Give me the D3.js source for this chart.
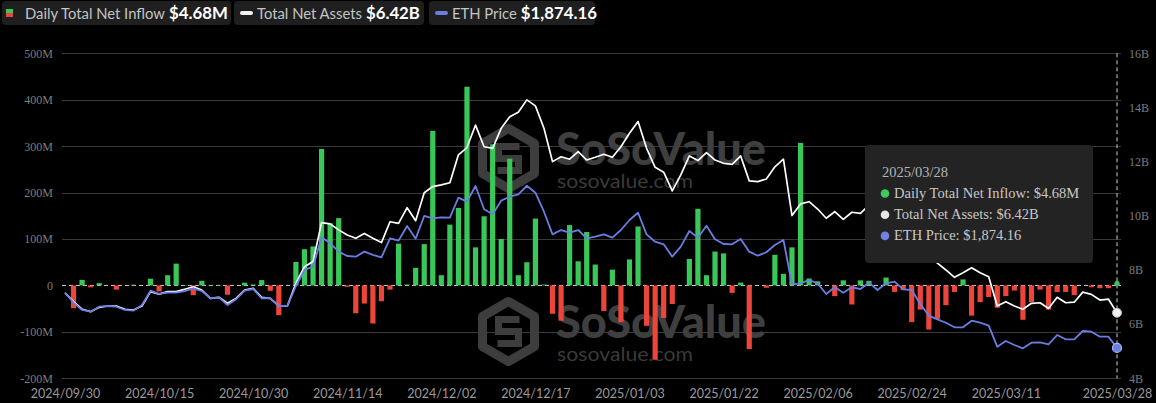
<!DOCTYPE html>
<html><head><meta charset="utf-8">
<script src="https://cdn.jsdelivr.net/npm/d3@7/dist/d3.min.js"></script>
<style>html,body{margin:0;padding:0;background:#000;overflow:hidden;} svg{display:block;}</style>
</head><body><svg id="c" width="1156" height="403"></svg>
<script>
const dates = [
"2024/09/30","2024/10/01","2024/10/02","2024/10/03","2024/10/04","2024/10/07","2024/10/08","2024/10/09","2024/10/10","2024/10/11",
"2024/10/14","2024/10/15","2024/10/16","2024/10/17","2024/10/18","2024/10/21","2024/10/22","2024/10/23","2024/10/24","2024/10/25",
"2024/10/28","2024/10/29","2024/10/30","2024/10/31","2024/11/01","2024/11/04","2024/11/05","2024/11/06","2024/11/07","2024/11/08",
"2024/11/11","2024/11/12","2024/11/13","2024/11/14","2024/11/15","2024/11/18","2024/11/19","2024/11/20","2024/11/21","2024/11/22",
"2024/11/25","2024/11/26","2024/11/27","2024/11/29","2024/12/02","2024/12/03","2024/12/04","2024/12/05","2024/12/06","2024/12/09",
"2024/12/10","2024/12/11","2024/12/12","2024/12/13","2024/12/16","2024/12/17","2024/12/18","2024/12/19","2024/12/20","2024/12/23",
"2024/12/24","2024/12/26","2024/12/27","2024/12/30","2024/12/31","2025/01/02","2025/01/03","2025/01/06","2025/01/07","2025/01/08",
"2025/01/10","2025/01/13","2025/01/14","2025/01/15","2025/01/16","2025/01/17","2025/01/21","2025/01/22","2025/01/23","2025/01/24",
"2025/01/27","2025/01/28","2025/01/29","2025/01/30","2025/01/31","2025/02/03","2025/02/04","2025/02/05","2025/02/06","2025/02/07",
"2025/02/10","2025/02/11","2025/02/12","2025/02/13","2025/02/14","2025/02/18","2025/02/19","2025/02/20","2025/02/21","2025/02/24",
"2025/02/25","2025/02/26","2025/02/27","2025/02/28","2025/03/03","2025/03/04","2025/03/05","2025/03/06","2025/03/07","2025/03/10",
"2025/03/11","2025/03/12","2025/03/13","2025/03/14","2025/03/17","2025/03/18","2025/03/19","2025/03/20","2025/03/21","2025/03/24",
"2025/03/25","2025/03/26","2025/03/27","2025/03/28"];

// Daily total net inflow, millions USD
const inflow = [
0, -49, 12, -4, 5, 0, -9, 0, 1.5, 0,
14.5, -13, 22, 47, 1, -21, 10, 1, 1, -20,
0, 6, 2, 11.5, -11.5, -64, 0, 50.5, 78, 84,
294, 134, 145, -3, -60, -39, -82, -34, -9, 90,
2, 38, 89, 333, 22, 131, 167, 428, 82, 149,
304, 100, 273, 22, 50, 144, 2, -61, -76, 130,
52, 115, 45, -55, 34, -79, 56, 127, -87, -160,
-70, -40, 0, 57, 165, 22, 73, 69, -16, 6,
-137, 0, -5, 66, 25, 82, 307, 15, 9, 0,
-23, 11, -41, 11, 10, 0, 17, -14, -10, -79,
-52, -95, -72, -42.5, -14, 13, -65, -36, -25, -48,
-23, -11, -74, -36, -9, -52, -14, -14, -21, 0,
-4, -6, -6, 4.68];

// Total net assets, billions USD
const netAssets = [
7.16, 6.83, 6.55, 6.46, 6.62, 6.67, 6.67, 6.55, 6.52, 6.67,
7.20, 7.11, 7.20, 7.20, 7.29, 7.38, 7.26, 6.95, 6.99, 6.77,
6.95, 7.26, 7.32, 6.99, 6.95, 6.67, 6.67, 7.51, 8.12, 8.31,
9.75, 9.70, 9.48, 9.29, 9.17, 9.35, 9.17, 9.01, 9.78, 9.72,
10.30, 9.82, 10.85, 11.08, 11.14, 11.22, 12.25, 12.52, 13.35, 12.55,
12.49, 13.23, 13.66, 13.82, 14.28, 14.06, 13.23, 12.00, 12.18, 12.09,
12.37, 12.06, 12.16, 12.27, 12.16, 12.55, 13.05, 13.48, 12.49, 11.79,
11.61, 10.92, 11.51, 12.21, 12.04, 12.33, 12.06, 11.94, 11.90, 12.21,
11.29, 11.26, 11.36, 11.81, 12.09, 10.01, 10.44, 10.52, 10.25, 9.91,
10.15, 9.87, 10.13, 10.09, 10.39, 10.04, 10.35, 10.42, 10.02, 9.93,
9.17, 8.49, 8.25, 8.00, 7.73, 7.90, 8.08, 7.90, 7.75, 6.67,
6.83, 6.67, 6.55, 6.77, 6.79, 6.58, 6.99, 6.79, 6.81, 7.18,
7.10, 6.89, 6.92, 6.42];

// ETH price, USD
const ethPrice = [
2554, 2431, 2341, 2320, 2381, 2390, 2381, 2341, 2332, 2402,
2578, 2538, 2554, 2554, 2574, 2608, 2574, 2485, 2497, 2402,
2472, 2578, 2599, 2485, 2485, 2390, 2390, 2636, 2833, 2874,
3235, 3162, 3059, 3005, 2997, 3059, 3018, 2989, 3223, 3194,
3375, 3219, 3498, 3469, 3481, 3477, 3723, 3674, 3867, 3580,
3518, 3686, 3735, 3765, 3870, 3784, 3550, 3272, 3325, 3292,
3325, 3223, 3243, 3272, 3231, 3325, 3448, 3538, 3272, 3181,
3149, 2997, 3120, 3313, 3231, 3378, 3211, 3153, 3149, 3215,
3059, 3009, 3051, 3141, 3202, 2657, 2669, 2710, 2669, 2538,
2620, 2554, 2620, 2599, 2677, 2587, 2669, 2689, 2595, 2587,
2414, 2271, 2226, 2184, 2128, 2128, 2209, 2184, 2148, 1889,
1959, 1910, 1869, 1938, 1943, 1918, 2033, 1980, 1980, 2082,
2074, 2012, 2012, 1874.16];

const xTickLabels = ["2024/09/30","2024/10/15","2024/10/30","2024/11/14","2024/12/02","2024/12/17","2025/01/03","2025/01/22","2025/02/06","2025/02/24","2025/03/11","2025/03/28"];
const leftTicks = [-200, -100, 0, 100, 200, 300, 400, 500];
const rightTicks = [4, 6, 8, 10, 12, 14, 16];

const legendItems = [
  {label: "Daily Total Net Inflow", value: "$4.68M", type: "bar"},
  {label: "Total Net Assets", value: "$6.42B", type: "white"},
  {label: "ETH Price", value: "$1,874.16", type: "blue"}
];
const tooltipDate = "2025/03/28";
const tooltipRows = [
  {label: "Daily Total Net Inflow: $4.68M", color: "#3fca5c"},
  {label: "Total Net Assets: $6.42B", color: "#e6e6e6"},
  {label: "ETH Price: $1,874.16", color: "#6f83e6"}
];

const GREEN = "#3ac75a", RED = "#ec463b", WHITE = "#ffffff", BLUE = "#6a7ee2";
const svg = d3.select("#c");
svg.append("rect").attr("width", 1156).attr("height", 403).attr("fill", "#000");

const plotL = 62, plotR = 1121, yTop = 53.3, yBot = 378.3;
const x = d3.scalePoint().domain(dates).range([65, 1117]);
const yL = d3.scaleLinear().domain([-200, 500]).range([yBot, yTop]);
const yR = d3.scaleLinear().domain([4, 16]).range([yBot, yTop]);
const yE = d3.scaleLinear().domain([1500, 5500]).range([yBot, yTop]);

// gridlines
svg.append("g").selectAll("line").data(leftTicks.filter(d => d !== 0)).join("line")
  .attr("x1", plotL).attr("x2", plotR)
  .attr("y1", d => Math.round(yL(d)) + 0.5).attr("y2", d => Math.round(yL(d)) + 0.5)
  .attr("stroke", "#3a3a3a").attr("stroke-width", 1);

// watermarks
function watermark(cx, cy, tx, ty) {
  const g = svg.append("g");
  const r = 30;
  const pts = d3.range(6).map(k => {
    const a = (-90 + 60 * k) * Math.PI / 180;
    return [cx + r * Math.cos(a), cy + r * Math.sin(a)];
  });
  g.append("path").attr("d", "M" + pts.map(p => p.join(",")).join("L") + "Z")
    .attr("fill", "none").attr("stroke", "#3d3d3d").attr("stroke-width", 9).attr("stroke-linejoin", "round");
  g.append("path")
    .attr("d", `M${cx + 11},${cy - 12} H${cx - 10} V${cy} H${cx + 10} V${cy + 12} H${cx - 11}`)
    .attr("fill", "none").attr("stroke", "#3d3d3d").attr("stroke-width", 7);
  g.append("text").attr("x", tx).attr("y", ty).text("SoSoValue")
    .attr("font-family", "Lato, sans-serif").attr("font-weight", 900).attr("font-size", 46)
    .attr("textLength", 210).attr("lengthAdjust", "spacingAndGlyphs").attr("fill", "#3f3f3f");
  g.append("text").attr("x", tx + 1).attr("y", ty + 23).text("sosovalue.com")
    .attr("font-family", "Lato, sans-serif").attr("font-size", 20)
    .attr("textLength", 136).attr("lengthAdjust", "spacingAndGlyphs").attr("fill", "#3a3a3a");
}
watermark(508.5, 158.5, 556, 165);
watermark(508.5, 331.5, 556, 338);

// zero line
svg.append("line").attr("x1", plotL).attr("x2", plotR).attr("y1", yL(0)).attr("y2", yL(0))
  .attr("stroke", "#d8d0c8").attr("stroke-width", 1).attr("stroke-dasharray", "4,3");

// bars
const bw = 5.2;
svg.append("g").selectAll("rect").data(inflow).join("rect")
  .attr("x", (d, i) => x(dates[i]) - bw / 2)
  .attr("y", d => Math.min(yL(d), yL(0)))
  .attr("width", bw)
  .attr("height", d => Math.abs(yL(d) - yL(0)))
  .attr("fill", d => d >= 0 ? GREEN : RED);

// lines
const lineR = d3.line().x((d, i) => x(dates[i])).y(d => yR(d));
const lineE = d3.line().x((d, i) => x(dates[i])).y(d => yE(d));
svg.append("path").datum(netAssets).attr("d", lineR).attr("fill", "none")
  .attr("stroke", WHITE).attr("stroke-width", 1.7).attr("stroke-linejoin", "round");
svg.append("path").datum(ethPrice).attr("d", lineE).attr("fill", "none")
  .attr("stroke", BLUE).attr("stroke-width", 1.8).attr("stroke-linejoin", "round");

// cursor line
const lastX = x(dates[dates.length - 1]);
svg.append("line").attr("x1", lastX).attr("x2", lastX).attr("y1", yTop).attr("y2", yBot)
  .attr("stroke", "#cfcfcf").attr("stroke-width", 1).attr("stroke-dasharray", "4,3");

// end markers
const li = dates.length - 1;
svg.append("circle").attr("cx", lastX).attr("cy", yR(netAssets[li])).attr("r", 4.5)
  .attr("fill", "#f0f0f0").attr("stroke", "#bbb").attr("stroke-width", 1);
svg.append("circle").attr("cx", lastX).attr("cy", yE(ethPrice[li])).attr("r", 4.5)
  .attr("fill", BLUE).attr("stroke", "#a9b6f5").attr("stroke-width", 1.2);
svg.append("circle").attr("cx", lastX).attr("cy", yL(inflow[li])).attr("r", 2.5).attr("fill", GREEN);

// axes
const leftAxis = d3.axisLeft(yL).tickValues(leftTicks).tickSize(0).tickPadding(9)
  .tickFormat(d => d === 0 ? "0" : d + "M");
const gl = svg.append("g").attr("transform", `translate(${plotL},0)`).call(leftAxis);
const rightAxis = d3.axisRight(yR).tickValues(rightTicks).tickSize(0).tickPadding(8)
  .tickFormat(d => d + "B");
const gr = svg.append("g").attr("transform", `translate(${plotR},0)`).call(rightAxis);
[gl, gr].forEach(g => {
  g.select(".domain").remove();
  g.selectAll("text").attr("font-family", "'Liberation Serif', serif").attr("font-size", 12).attr("fill", "#7c7c7c");
});
const bottomAxis = d3.axisBottom(x).tickValues(xTickLabels).tickSize(0).tickPadding(11);
const gb = svg.append("g").attr("transform", `translate(0,${yBot})`).call(bottomAxis);
gb.select(".domain").remove();
gb.selectAll("text").attr("font-family", "Lato, sans-serif").attr("font-size", 12.5).attr("fill", "#9a9a9a");

// legend
const legendX = [2, 234, 429];
const legendW = [229, 190, 166];
legendItems.forEach((it, k) => {
  const g = svg.append("g").attr("transform", `translate(${legendX[k]},1)`);
  g.append("rect").attr("width", legendW[k]).attr("height", 24).attr("rx", 4).attr("fill", "#1f1f1f");
  if (it.type === "bar") {
    g.append("rect").attr("x", 4).attr("y", 8).attr("width", 7).attr("height", 4).attr("fill", GREEN);
    g.append("rect").attr("x", 4).attr("y", 12).attr("width", 7).attr("height", 4).attr("fill", RED);
  } else {
    g.append("line").attr("x1", 8).attr("x2", 17).attr("y1", 12).attr("y2", 12)
      .attr("stroke", it.type === "white" ? "#f2f2f2" : BLUE).attr("stroke-width", 4).attr("stroke-linecap", "round");
  }
  const t = g.append("text").attr("x", 23).attr("y", 17.5).attr("font-family", "Lato, sans-serif");
  t.append("tspan").text(it.label).attr("font-size", 14.8).attr("fill", "#c4c4c4");
  t.append("tspan").text(" " + it.value).attr("font-size", 16.8).attr("font-weight", 700).attr("fill", "#ffffff");
});

// tooltip
const tg = svg.append("g").attr("transform", "translate(865,145)");
tg.append("rect").attr("width", 228).attr("height", 118).attr("rx", 4).attr("fill", "#232323");
tg.append("text").attr("x", 17).attr("y", 32).text(tooltipDate)
  .attr("font-family", "'Liberation Serif', serif").attr("font-size", 14.5).attr("fill", "#b4b4b4");
tooltipRows.forEach((r, k) => {
  tg.append("circle").attr("cx", 20).attr("cy", 48.5 + k * 21.2).attr("r", 4.3).attr("fill", r.color);
  tg.append("text").attr("x", 29).attr("y", 53 + k * 21.2).text(r.label)
    .attr("font-family", "'Liberation Serif', serif").attr("font-size", 14.5).attr("fill", "#c8c8c8");
});
</script>
</body></html>
